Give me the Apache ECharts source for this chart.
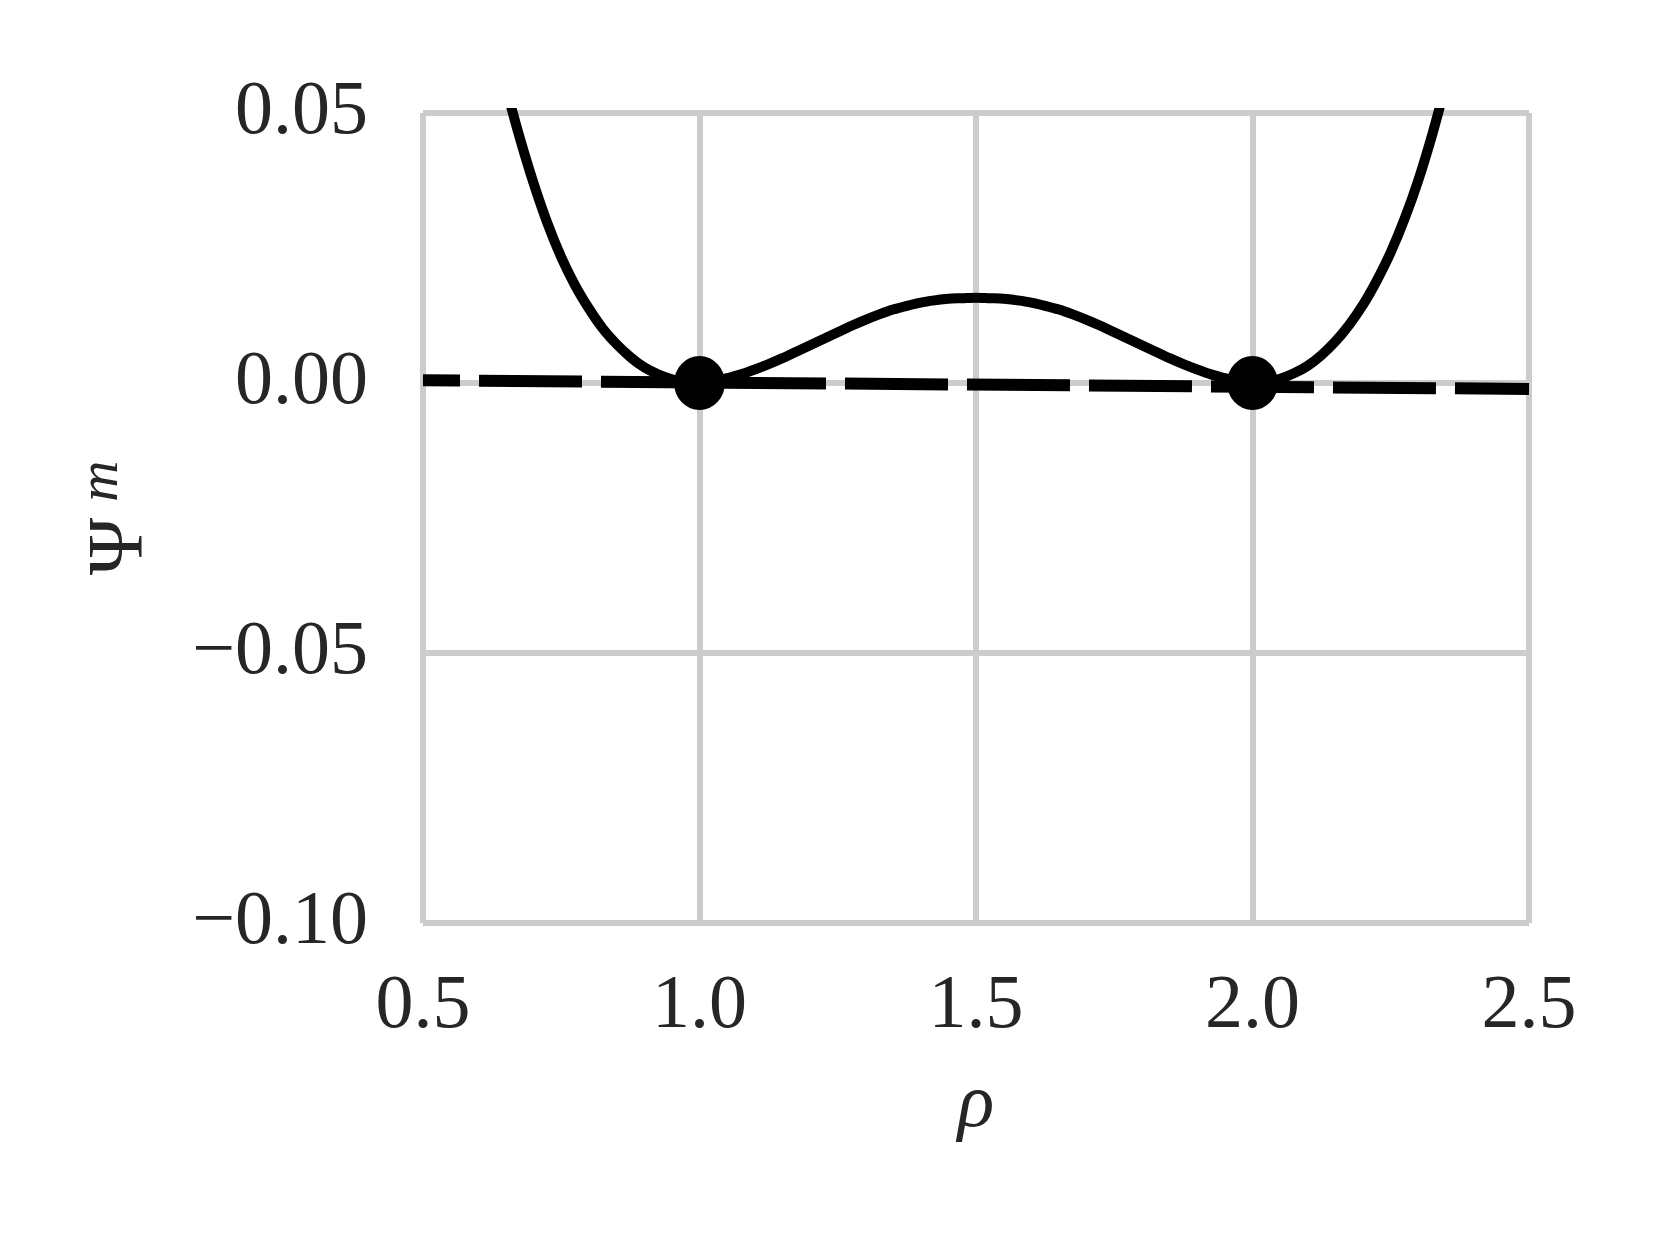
<!DOCTYPE html>
<html>
<head>
<meta charset="utf-8">
<script src="https://cdn.jsdelivr.net/npm/echarts@6/dist/echarts.min.js"></script>
<style>
html,body{margin:0;padding:0;background:#fff;}
#chart{width:1661px;height:1246px;}
</style>
</head>
<body>
<div id="chart"></div>
<script>
// curve samples
const rho = [0.650, 0.675, 0.700, 0.725, 0.750, 0.775, 0.800, 0.825, 0.850, 0.875, 0.900, 0.925, 0.950, 0.975,
             1.000, 1.025, 1.050, 1.075, 1.100, 1.125, 1.150, 1.175, 1.200, 1.225, 1.250, 1.275, 1.300, 1.325, 1.350, 1.375, 1.400, 1.425, 1.450, 1.475,
             1.500, 1.525, 1.550, 1.575, 1.600, 1.625, 1.650, 1.675, 1.700, 1.725, 1.750, 1.775, 1.800, 1.825, 1.850, 1.875, 1.900, 1.925, 1.950, 1.975,
             2.000, 2.025, 2.050, 2.075, 2.100, 2.125, 2.150, 2.175, 2.200, 2.225, 2.250, 2.275, 2.300, 2.325, 2.350];
const psi = [0.0547, 0.0454, 0.0370, 0.0296, 0.0233, 0.0181, 0.0138, 0.0101, 0.0072, 0.0048, 0.0029, 0.0016, 0.0007, 0.0002,
             0.0000, 0.0002, 0.0009, 0.0016, 0.0025, 0.0035, 0.0046, 0.0058, 0.0070, 0.0082, 0.0094, 0.0106, 0.0117, 0.0127, 0.0136, 0.0143, 0.0149, 0.0153, 0.0156, 0.0157,
             0.0158, 0.0157, 0.0156, 0.0153, 0.0149, 0.0143, 0.0136, 0.0127, 0.0117, 0.0106, 0.0094, 0.0082, 0.0070, 0.0058, 0.0046, 0.0035, 0.0025, 0.0016, 0.0009, 0.0002,
             0.0000, 0.0002, 0.0008, 0.0018, 0.0032, 0.0052, 0.0077, 0.0108, 0.0145, 0.0190, 0.0242, 0.0304, 0.0376, 0.0460, 0.0555];
// dashed reference line end points
const lineRho = [0.5, 2.5];
const linePsi = [0.0005, -0.0011];
// marked minima
const dotRho = [1.0, 2.0];
const dotPsi = [0.0, 0.0];
// tick labels
const xTickLabels = ['0.5', '1.0', '1.5', '2.0', '2.5'];
const yTickLabels = ['\u22120.10', '\u22120.05', '0.00', '0.05'];
const xTickValues = [0.5, 1.0, 1.5, 2.0, 2.5];
const yTickValues = [-0.10, -0.05, 0.00, 0.05];

const FONT = 'Liberation Serif';
const TXT = '#262626';
const GRIDC = '#cccccc';

function lookup(vals, labels, v) {
  for (let i = 0; i < vals.length; i++) if (Math.abs(vals[i] - v) < 1e-9) return labels[i];
  return '';
}

const chart = echarts.init(document.getElementById('chart'), null, {renderer: 'canvas'});
chart.setOption({
  animation: false,
  backgroundColor: '#ffffff',
  grid: {left: 423, right: 132, top: 113, bottom: 323, containLabel: false},
  xAxis: {
    type: 'value', min: 0.5, max: 2.5, interval: 0.5,
    name: '\u03C1', nameLocation: 'middle', nameGap: 145,
    nameTextStyle: {fontFamily: FONT, fontSize: 76, fontStyle: 'italic', color: TXT},
    axisLine: {show: false}, axisTick: {show: false},
    axisLabel: {
      margin: 46, fontFamily: FONT, fontSize: 76, color: TXT,
      formatter: v => lookup(xTickValues, xTickLabels, v)
    },
    splitLine: {show: true, lineStyle: {color: GRIDC, width: 6}}
  },
  yAxis: {
    type: 'value', min: -0.10, max: 0.05, interval: 0.05,
    name: '{p|\u03A8}{s| }{m|m}', nameLocation: 'middle', nameGap: 262, nameRotate: 90,
    nameTextStyle: {
      color: TXT,
      rich: {
        p: {fontFamily: FONT, fontSize: 78, color: TXT, lineHeight: 80},
        s: {fontFamily: FONT, fontSize: 12, width: 16, lineHeight: 80},
        m: {fontFamily: FONT, fontSize: 57, fontStyle: 'italic', color: TXT, lineHeight: 40, padding: [0, 0, 38, 0]}
      }
    },
    axisLine: {show: false}, axisTick: {show: false},
    axisLabel: {
      margin: 55, fontFamily: FONT, fontSize: 76, color: TXT,
      formatter: v => lookup(yTickValues, yTickLabels, v)
    },
    splitLine: {show: true, lineStyle: {color: GRIDC, width: 6}}
  },
  series: [
    {
      type: 'line', data: lineRho.map((r, i) => [r, linePsi[i]]),
      showSymbol: false, symbol: 'none', clip: true, z: 2,
      lineStyle: {color: '#000', width: 12, type: [103, 19], dashOffset: 66, cap: 'butt'}
    },
    {
      type: 'line', data: rho.map((r, i) => [r, psi[i]]),
      showSymbol: false, symbol: 'none', clip: true, smooth: 0.3, z: 3,
      lineStyle: {color: '#000', width: 10, join: 'round'}
    },
    {
      type: 'scatter', data: dotRho.map((r, i) => [r, dotPsi[i]]),
      symbol: 'circle', symbolSize: [51, 54], z: 4,
      itemStyle: {color: '#000', opacity: 1}
    }
  ]
});
</script>
</body>
</html>
